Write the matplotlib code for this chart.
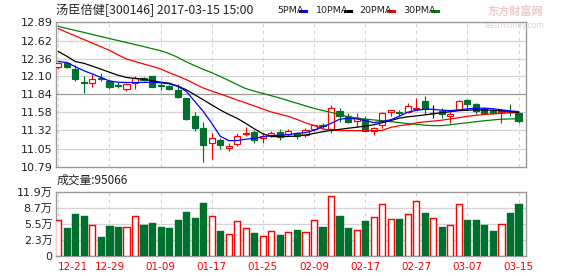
import matplotlib
matplotlib.use("Agg")
import matplotlib.pyplot as plt
import numpy as np

# ---------------- data ----------------
opens = [12.24, 12.29, 12.21, 12.02, 12.01, 12.08, 12.03, 11.97, 11.92, 12.01,
         12.08, 12.10, 11.97, 11.96, 11.91, 11.78, 11.52, 11.35, 11.13, 11.18,
         11.06, 11.12, 11.26, 11.30, 11.20, 11.25, 11.30, 11.26, 11.28, 11.25,
         11.33, 11.39, 11.34, 11.60, 11.53, 11.46, 11.48, 11.31, 11.39, 11.58,
         11.58, 11.58, 11.63, 11.75, 11.57, 11.60, 11.52, 11.62, 11.76, 11.70,
         11.63, 11.60, 11.58, 11.60, 11.57]
highs = [12.30, 12.31, 12.26, 12.10, 12.13, 12.15, 12.05, 12.02, 12.00, 12.10,
         12.09, 12.11, 12.00, 11.97, 11.99, 11.79, 11.59, 11.44, 11.28, 11.20,
         11.13, 11.28, 11.36, 11.32, 11.28, 11.31, 11.33, 11.33, 11.29, 11.35,
         11.39, 11.42, 11.69, 11.64, 11.57, 11.57, 11.53, 11.37, 11.58, 11.61,
         11.62, 11.71, 11.79, 11.81, 11.69, 11.64, 11.58, 11.76, 11.77, 11.71,
         11.66, 11.64, 11.63, 11.70, 11.59]
lows = [12.21, 12.22, 12.04, 11.86, 11.95, 12.03, 11.92, 11.93, 11.89, 11.92,
        12.04, 11.94, 11.91, 11.91, 11.79, 11.47, 11.31, 10.86, 10.90, 11.04,
        11.02, 11.09, 11.24, 11.14, 11.13, 11.22, 11.18, 11.23, 11.19, 11.22,
        11.31, 11.34, 11.28, 11.44, 11.42, 11.37, 11.31, 11.25, 11.35, 11.52,
        11.52, 11.57, 11.63, 11.55, 11.49, 11.50, 11.42, 11.61, 11.62, 11.56,
        11.56, 11.55, 11.43, 11.53, 11.42]
closes = [12.29, 12.24, 12.07, 12.01, 12.06, 12.07, 11.94, 11.96, 11.99, 12.08,
          12.05, 11.95, 11.96, 11.92, 11.80, 11.48, 11.35, 11.11, 11.20, 11.10,
          11.09, 11.24, 11.28, 11.18, 11.24, 11.28, 11.22, 11.31, 11.23, 11.32,
          11.39, 11.38, 11.64, 11.52, 11.44, 11.49, 11.31, 11.35, 11.57, 11.61,
          11.57, 11.67, 11.64, 11.63, 11.57, 11.55, 11.56, 11.75, 11.70, 11.60,
          11.57, 11.57, 11.60, 11.59, 11.46]
# volume in units of 10,000 (万)
volumes = [6.24, 4.76, 7.52, 7.12, 5.23, 2.87, 5.10, 4.89, 4.89, 7.05,
           5.30, 5.70, 4.89, 4.76, 6.31, 7.93, 6.78, 9.74, 7.05, 4.09,
           3.48, 6.04, 4.69, 3.75, 3.07, 4.22, 3.34, 3.88, 4.29, 4.02,
           6.24, 4.89, 11.09, 7.12, 4.76, 4.42, 6.11, 6.85, 9.47, 6.44,
           6.51, 7.45, 10.08, 7.72, 6.65, 4.89, 5.23, 9.47, 6.31, 6.31,
           5.30, 4.09, 5.63, 7.72, 9.51]
ma5 = [12.317, 12.302, 12.241, 12.183, 12.135, 12.086, 12.035, 12.016, 12.012, 12.012,
       12.013, 12.016, 12.007, 11.993, 11.956, 11.885, 11.740, 11.594, 11.421, 11.233,
       11.168, 11.169, 11.190, 11.200, 11.223, 11.242, 11.247, 11.255, 11.273, 11.284,
       11.318, 11.369, 11.418, 11.478, 11.494, 11.484, 11.459, 11.430, 11.446, 11.472,
       11.521, 11.581, 11.607, 11.625, 11.622, 11.610, 11.604, 11.615, 11.629, 11.639,
       11.639, 11.632, 11.615, 11.600, 11.590]
ma10 = [12.462, 12.393, 12.316, 12.291, 12.249, 12.206, 12.161, 12.118, 12.086, 12.070,
        12.061, 12.038, 12.017, 12.003, 11.961, 11.908, 11.834, 11.762, 11.687, 11.613,
        11.549, 11.491, 11.418, 11.340, 11.267, 11.227, 11.228, 11.229, 11.235, 11.250,
        11.273, 11.297, 11.316, 11.332, 11.348, 11.363, 11.379, 11.398, 11.428, 11.459,
        11.494, 11.514, 11.527, 11.542, 11.558, 11.574, 11.588, 11.604, 11.610, 11.615,
        11.613, 11.609, 11.604, 11.590, 11.578]
ma20 = [12.793, 12.740, 12.688, 12.636, 12.583, 12.531, 12.478, 12.414, 12.353, 12.317,
        12.281, 12.246, 12.209, 12.154, 12.107, 12.055, 11.993, 11.932, 11.889, 11.846,
        11.802, 11.757, 11.715, 11.671, 11.628, 11.584, 11.552, 11.520, 11.477, 11.426,
        11.389, 11.338, 11.319, 11.314, 11.314, 11.314, 11.314, 11.314, 11.317, 11.360,
        11.385, 11.399, 11.426, 11.440, 11.452, 11.465, 11.484, 11.501, 11.522, 11.535,
        11.548, 11.556, 11.565, 11.571, 11.578]
ma30 = [12.826, 12.797, 12.768, 12.739, 12.708, 12.679, 12.650, 12.621, 12.592, 12.563,
        12.534, 12.503, 12.473, 12.432, 12.378, 12.313, 12.257, 12.204, 12.155, 12.099,
        12.041, 11.981, 11.923, 11.887, 11.853, 11.820, 11.786, 11.748, 11.711, 11.673,
        11.636, 11.607, 11.578, 11.546, 11.514, 11.498, 11.481, 11.469, 11.457, 11.444,
        11.430, 11.415, 11.404, 11.393, 11.385, 11.386, 11.399, 11.414, 11.428, 11.443,
        11.457, 11.469, 11.479, 11.484, 11.484]
date_labels = ['12-21', '12-29', '01-09', '01-17', '01-25',
               '02-09', '02-17', '02-27', '03-07', '03-15']
price_ticks = [10.79, 11.05, 11.32, 11.58, 11.84, 12.10, 12.36, 12.62, 12.89]
vol_ticks = [-0.9, 2.3, 5.5, 8.7, 11.9]
vol_tick_labels = ['0', '2.3万', '5.5万', '8.7万', '11.9万']
ma_names = ['5PMA', '10PMA', '20PMA', '30PMA']
title_text = '汤臣倍健[300146] 2017-03-15 15:00'
vol_text = '成交量:95066'

# ---------------- style ----------------
RED = '#ff0000'
GREEN = '#00702f'
GRID = '#d4d4d4'
FRAME = '#9a9a9a'
MA_COLORS = ['#0000ff', 'black', RED, '#008000']
plt.rcParams['font.family'] = ['DejaVu Sans', 'Noto Sans CJK SC']

W, H = 578, 276
fig = plt.figure(figsize=(W / 100, H / 100), dpi=100)
fig.patch.set_facecolor('white')

def fx(px):
    return px / W

def fy(py):
    return 1 - py / H

L, R = 55.5, 525.5
ax = fig.add_axes([fx(L), fy(166.7), fx(R - L), fy(22) - fy(166.7)])
axv = fig.add_axes([fx(L), fy(256), fx(R - L), fy(192.3) - fy(256)])

n = len(closes)
x = np.arange(n)
tick_idx = np.arange(0, n, 6)
bw = 0.72
lw = 0.85

for a in (ax, axv):
    a.set_xlim(-0.33, n - 1 + 0.82)
    for s in a.spines.values():
        s.set_color(FRAME)
        s.set_linewidth(1.0)
    a.tick_params(length=0, labelsize=8, colors='#222222', pad=2)
    for t in tick_idx:
        a.axvline(t, color=GRID, lw=0.8, ls=(0, (3, 3)), zorder=0)

# ---- price panel ----
ax.set_ylim(price_ticks[0], price_ticks[-1])
ax.set_yticks(price_ticks)
ax.set_yticklabels([f'{v:.2f}' for v in price_ticks])
for v in price_ticks[1:-1]:
    ax.axhline(v, color=(FRAME if v == 11.84 else GRID), lw=0.9, zorder=0)
ax.set_xticks([])

for i in range(n):
    o, h, l, c = opens[i], highs[i], lows[i], closes[i]
    if c > o:
        col, face = RED, 'white'
    elif c < o:
        col, face = GREEN, GREEN
    else:
        col, face = 'black', 'black'
    ax.vlines(x[i], l, h, color=col, lw=lw, zorder=2)
    ax.bar(x[i], abs(c - o), bottom=min(o, c), width=bw, facecolor=face,
           edgecolor=col, linewidth=lw, zorder=3)

for series, colr in zip([ma30, ma20, ma10, ma5], MA_COLORS[::-1]):
    ax.plot(x, series, color=colr, lw=0.9, zorder=4)

# ---- volume panel ----
axv.set_ylim(vol_ticks[0], vol_ticks[-1])
axv.set_yticks(vol_ticks)
axv.set_yticklabels(vol_tick_labels)
for v in vol_ticks[1:-1]:
    axv.axhline(v, color=GRID, lw=0.9, zorder=0)
for i in range(n):
    up = closes[i] >= opens[i]
    axv.bar(x[i], volumes[i] - vol_ticks[0], bottom=vol_ticks[0], width=bw,
            facecolor=('white' if up else GREEN),
            edgecolor=(RED if up else GREEN), linewidth=lw * 1.2, zorder=3)
axv.set_xticks(tick_idx)
axv.set_xticklabels(date_labels)
axv.tick_params(axis='x', colors=RED, labelsize=7.5, pad=4)
axv.get_xticklabels()[0].set_ha('left')

# ---- texts ----
fig.text(fx(56), fy(10.5), title_text, fontsize=8.8, va='center', ha='left',
         family=['Noto Sans CJK SC', 'DejaVu Sans'], color='#222222')
name_x = [277, 316, 359, 403]
for name, colr, px in zip(ma_names, MA_COLORS, name_x):
    fig.text(fx(px), fy(10.5), name, fontsize=6.8, va='center', ha='left', color='#222222')
    end = px + 5.6 * len(name) - 1
    fig.add_artist(plt.Line2D([fx(end + 2), fx(end + 8)], [fy(10.5), fy(10.5)],
                              color=colr, lw=2.2))
fig.text(fx(57), fy(180), vol_text, fontsize=8.5, va='center', ha='left',
         family=['Noto Sans CJK SC', 'DejaVu Sans'], color='#222222')
fig.text(fx(515), fy(12), '东方财富网', fontsize=8, va='center', ha='center',
         family=['Noto Sans CJK SC'], color='#f0c8c8', weight='bold')
fig.text(fx(515), fy(26), 'eastmoney.com', fontsize=5.5, va='center', ha='center',
         color='#e8d0d0')

fig.savefig('out.png', dpi=100)
